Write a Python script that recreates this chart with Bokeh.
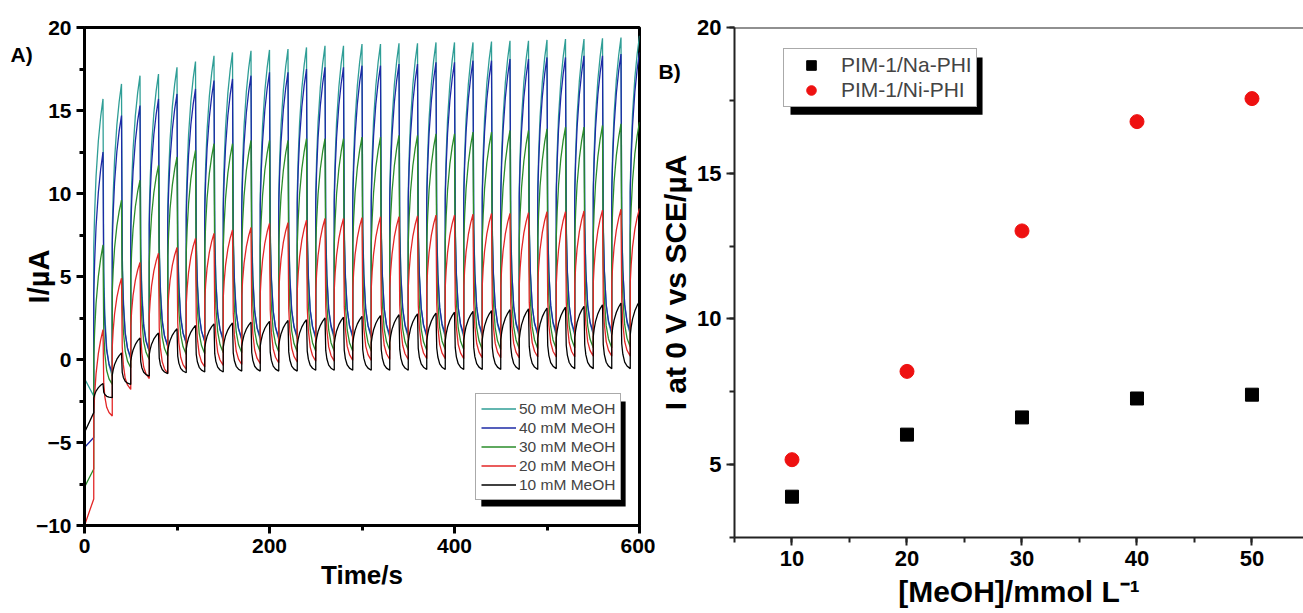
from bokeh.plotting import figure
from bokeh.layouts import row
from bokeh.models import (Legend, LegendItem, BoxAnnotation, Span, Title,
                          SingleIntervalTicker, Range1d)
from bokeh.embed import file_html
from bokeh.resources import INLINE

# ---------------- Panel A data (chopped-light chronoamperometry) ----------------
series_names = ["50 mM MeOH", "40 mM MeOH", "30 mM MeOH", "20 mM MeOH", "10 mM MeOH"]
series_colors = ["#2f9e96", "#1c2aa6", "#2a8c2a", "#e32626", "#000000"]

cycle_period = 20      # s, light on 10 s / off 10 s
light_on_time = 10     # s, length of each illuminated interval
n_cycles = 30          # peaks at 20, 40, ..., 600 s

start_50 = -1.15
start_40 = -5.3
start_30 = -7.7
start_20 = -10.0
start_10 = -4.4

peak_50 = [15.7, 16.6, 17.1, 17.2, 17.6, 17.95, 18.3, 18.5, 18.6, 18.65, 18.7, 18.8, 18.9, 18.9, 19.0,
           19.0, 19.05, 19.05, 19.1, 19.1, 19.1, 19.15, 19.2, 19.2, 19.25, 19.3, 19.3, 19.35, 19.4, 19.5]
peak_40 = [12.5, 14.7, 15.3, 15.7, 16.0, 16.3, 16.8, 16.9, 17.1, 17.3, 17.3, 17.5, 17.6, 17.6, 17.7,
           17.7, 17.8, 17.8, 17.9, 17.9, 18.0, 18.0, 18.1, 18.1, 18.2, 18.2, 18.3, 18.3, 18.4, 18.5]
peak_30 = [6.9, 9.6, 10.8, 11.7, 12.2, 12.6, 13.0, 13.0, 13.2, 13.2, 13.2, 13.3, 13.3, 13.3, 13.4,
           13.4, 13.5, 13.5, 13.6, 13.6, 13.7, 13.7, 13.8, 13.8, 13.9, 14.0, 14.0, 14.1, 14.2, 14.3]
peak_20 = [1.8, 4.9, 5.85, 6.4, 6.75, 7.3, 7.6, 7.8, 7.95, 8.2, 8.25, 8.4, 8.5, 8.5, 8.55,
           8.6, 8.6, 8.65, 8.7, 8.7, 8.75, 8.8, 8.8, 8.85, 8.9, 8.9, 8.95, 9.0, 9.05, 9.1]
peak_10 = [-1.45, 0.4, 1.3, 1.6, 1.85, 2.05, 2.15, 2.2, 2.25, 2.3, 2.35, 2.4, 2.5, 2.55, 2.6,
           2.65, 2.7, 2.75, 2.8, 2.85, 2.9, 2.95, 3.0, 3.05, 3.1, 3.15, 3.2, 3.3, 3.4, 3.5]

trough_50 = [-2.2, -1.0, 0.0, 0.5, 0.8, 0.95, 1.05, 1.1, 1.15, 1.2, 1.2, 1.25, 1.25, 1.25, 1.3,
             1.3, 1.3, 1.3, 1.35, 1.35, 1.35, 1.4, 1.4, 1.4, 1.45, 1.45, 1.45, 1.5, 1.5, 1.5]
trough_40 = [-4.7, -0.8, 0.1, 0.5, 0.8, 1.0, 1.1, 1.2, 1.25, 1.3, 1.3, 1.35, 1.35, 1.4, 1.4,
             1.4, 1.45, 1.45, 1.45, 1.5, 1.5, 1.5, 1.55, 1.55, 1.55, 1.6, 1.6, 1.6, 1.65, 1.65]
trough_30 = [-6.6, -1.5, -0.5, 0.0, 0.2, 0.3, 0.35, 0.4, 0.4, 0.45, 0.45, 0.45, 0.5, 0.5, 0.5,
             0.5, 0.55, 0.55, 0.55, 0.6, 0.6, 0.6, 0.6, 0.65, 0.65, 0.65, 0.7, 0.7, 0.7, 0.75]
trough_20 = [-8.4, -3.4, -1.8, -1.15, -0.85, -0.6, -0.45, -0.35, -0.3, -0.25, -0.2, -0.15, -0.1, -0.1, -0.05,
             -0.05, 0.0, 0.0, 0.05, 0.05, 0.05, 0.1, 0.1, 0.1, 0.15, 0.15, 0.15, 0.2, 0.2, 0.2]
trough_10 = [-3.2, -2.3, -1.5, -1.0, -0.85, -0.8, -0.75, -0.75, -0.7, -0.7, -0.7, -0.7, -0.65, -0.65, -0.65,
             -0.65, -0.65, -0.65, -0.6, -0.6, -0.6, -0.6, -0.6, -0.6, -0.6, -0.55, -0.55, -0.55, -0.55, -0.55]

# transient shape within a light-on / light-off half period (time offset, fraction of amplitude)
on_dt = [0, 0, 1, 2.5, 5, 7.5, 10]
on_frac = [0.0, 0.5, 0.62, 0.74, 0.86, 0.94, 1.0]
off_dt = [0, 0.8, 2, 4, 6.5, 10]
off_frac = [1.0, 0.38, 0.22, 0.1, 0.04, 0.0]

# ---------------- Panel B data ----------------
meoh_conc = [10, 20, 30, 40, 50]
na_phi = [3.9, 6.03, 6.62, 7.27, 7.4]
ni_phi = [5.17, 8.2, 13.02, 16.77, 17.56]

FONT = "Liberation Sans"


def build_trace(start, peaks, troughs):
    t = [0.0]
    y = [start]
    for k in range(n_cycles):
        t_on = cycle_period * (k + 1) - light_on_time
        T = troughs[k]
        P = peaks[k]
        for dt, f in zip(on_dt, on_frac):
            t.append(t_on + dt)
            y.append(T + f * (P - T))
        t_off = t_on + light_on_time
        if k + 1 < n_cycles:
            Tn = troughs[k + 1]
            for dt, f in zip(off_dt[1:], off_frac[1:]):
                t.append(t_off + dt)
                y.append(Tn + f * (P - Tn))
    return t, y


def style_axes(p, lw, color, tick_size, label_size):
    for ax in (p.xaxis, p.yaxis):
        ax.axis_line_width = lw
        ax.axis_line_color = color
        ax.major_tick_line_width = lw
        ax.major_tick_line_color = color
        ax.minor_tick_line_width = lw
        ax.minor_tick_line_color = color
        ax.major_tick_out = 8
        ax.major_tick_in = 0
        ax.minor_tick_out = 5
        ax.minor_tick_in = 0
        ax.major_label_text_font = FONT
        ax.major_label_text_font_style = "bold"
        ax.major_label_text_font_size = tick_size
        ax.major_label_text_color = "black"
        ax.major_label_standoff = 5
        ax.axis_label_text_font = FONT
        ax.axis_label_text_font_style = "bold"
        ax.axis_label_text_font_size = label_size
        ax.axis_label_text_color = "black"
    p.xgrid.visible = False
    p.ygrid.visible = False


def panel_tag(p, text, offset, standoff):
    p.title.text = text
    p.title.align = "left"
    p.title.vertical_align = "bottom"
    p.title.offset = offset
    p.title.standoff = standoff
    p.title.text_font = FONT
    p.title.text_font_style = "bold"
    p.title.text_font_size = "21px"
    p.title.text_color = "black"


# ---------------- Panel A ----------------
p1 = figure(width=655, height=601, x_range=Range1d(0, 600), y_range=Range1d(-10, 20),
            output_backend="svg", toolbar_location=None, title="A)",
            min_border_left=84, min_border_right=16, min_border_top=27, min_border_bottom=76)
style_axes(p1, 3, "black", "21px", "26px")
p1.xaxis.ticker = SingleIntervalTicker(interval=200, num_minor_ticks=2)
p1.yaxis.ticker = SingleIntervalTicker(interval=5, num_minor_ticks=2)
p1.xaxis.axis_label = "Time/s"
p1.yaxis.axis_label = "I/µA"
p1.yaxis.axis_label_text_font_size = "29px"
p1.xaxis.axis_label_standoff = 4
p1.yaxis.axis_label_standoff = -22
p1.outline_line_color = "black"
p1.outline_line_width = 3
p1.outline_line_alpha = 1.0
panel_tag(p1, "A)", -74, -76)

starts = [start_50, start_40, start_30, start_20, start_10]
peaks_all = [peak_50, peak_40, peak_30, peak_20, peak_10]
troughs_all = [trough_50, trough_40, trough_30, trough_20, trough_10]

renderers = []
for s, pk, tr, c in zip(starts, peaks_all, troughs_all, series_colors):
    t, y = build_trace(s, pk, tr)
    r = p1.line(t, y, line_color=c, line_width=1.3)
    renderers.append(r)

# legend shadow then legend
p1.add_layout(BoxAnnotation(left=429, right=585, top=-2.53, bottom=-8.86,
                            fill_color="black", fill_alpha=1.0, line_color=None))
leg1 = Legend(items=[LegendItem(label=n, renderers=[r]) for n, r in zip(series_names, renderers)],
              location=(391, 25), label_text_font=FONT, label_text_font_size="15.5px",
              glyph_width=35, glyph_height=19, label_height=19, spacing=0, padding=5,
              margin=0, label_standoff=3, border_line_color="#555555", border_line_width=1,
              background_fill_color="white", background_fill_alpha=1.0)
p1.add_layout(leg1)

# ---------------- Panel B ----------------
p2 = figure(width=648, height=613, x_range=Range1d(5, 54.48), y_range=Range1d(2.5, 20),
            output_backend="svg", toolbar_location=None, title="B)",
            min_border_left=79, min_border_right=0, min_border_top=27, min_border_bottom=76)
style_axes(p2, 2, "#222222", "22px", "30px")
p2.xaxis.ticker = SingleIntervalTicker(interval=10, num_minor_ticks=2)
p2.yaxis.ticker = SingleIntervalTicker(interval=5, num_minor_ticks=2)
p2.yaxis.axis_label = "I at 0 V vs SCE/µA"
p2.yaxis.axis_label_standoff = 2
p2.outline_line_color = None
p2.add_layout(Span(location=20, dimension="width", line_color="#222222", line_width=2))
panel_tag(p2, "B)", -76, -110)
p2.add_layout(Title(text="[MeOH]/mmol L⁻¹", align="center", vertical_align="bottom",
                    standoff=8, text_font=FONT, text_font_style="bold",
                    text_font_size="30px", text_color="black"), "below")

r_na = p2.scatter(meoh_conc, na_phi, marker="square", size=13, color="black")
r_ni = p2.scatter(meoh_conc, ni_phi, marker="circle", size=14, color="#ee1111")

p2.add_layout(BoxAnnotation(left=9.87, right=26.57, top=18.97, bottom=17.01,
                            fill_color="black", fill_alpha=1.0, line_color=None))
leg2 = Legend(items=[LegendItem(label="PIM-1/Na-PHI", renderers=[r_na]),
                     LegendItem(label="PIM-1/Ni-PHI", renderers=[r_ni])],
              location=(49, 430), label_text_font=FONT, label_text_font_size="21px",
              glyph_width=46, glyph_height=24, label_height=24, spacing=1, padding=4,
              margin=0, label_standoff=7, border_line_color="#555555", border_line_width=1,
              background_fill_color="white", background_fill_alpha=1.0)
p2.add_layout(leg2)

layout = row(p1, p2)
open("out.html", "w").write(file_html(layout, INLINE))
